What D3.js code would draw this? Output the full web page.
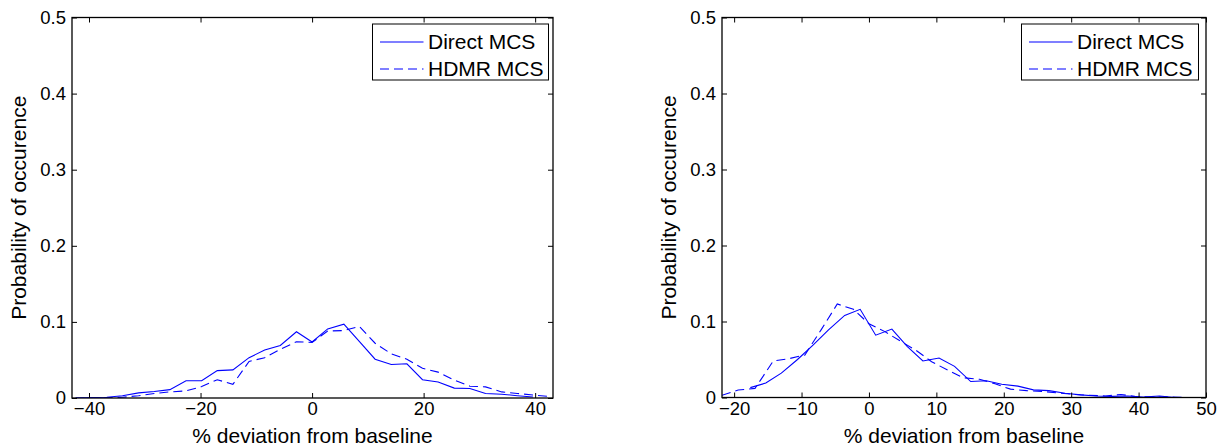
<!DOCTYPE html>
<html>
<head>
<meta charset="utf-8">
<script src="https://cdn.jsdelivr.net/npm/d3@7"></script>
<style>
    body { margin: 0; background: #fff; }
    svg { display: block; }
</style>
</head>
<body>
<div id="chart"></div>
<script>
// ---- left panel: bin centres (% deviation) and probabilities ----
const leftX = [-42.4, -39.6, -36.8, -34.0, -31.1, -28.3, -25.5, -22.6, -19.8, -17.0, -14.2, -11.3, -8.5, -5.7, -2.8,
    0, 2.8, 5.7, 8.5, 11.3, 14.2, 17.0, 19.8, 22.6, 25.5, 28.3, 31.1, 34.0, 36.8, 39.6, 42.4];
const leftDirect = [0, 0.0005, 0.001, 0.003, 0.0067, 0.0085, 0.011, 0.0226, 0.0226, 0.036, 0.037, 0.053, 0.063, 0.069, 0.087,
    0.0736, 0.0908, 0.097, 0.074, 0.051, 0.044, 0.045, 0.024, 0.021, 0.013, 0.0125, 0.006, 0.005, 0.003, 0.0013];
const leftHdmr = [0, 0, 0.0005, 0.001, 0.003, 0.006, 0.008, 0.0093, 0.015, 0.024, 0.018, 0.048, 0.053, 0.064, 0.074,
    0.073, 0.088, 0.0886, 0.094, 0.072, 0.058, 0.051, 0.039, 0.034, 0.0235, 0.0155, 0.0146, 0.008, 0.006, 0.004, 0.002];
const leftTicks = [-40, -20, 0, 20, 40];

// ---- right panel ----
const rightDirectX = [-17.6, -15.3, -13.0, -10.6, -8.3, -6.0, -3.6, -1.3, 1.0, 3.4, 5.7, 8.0, 10.4, 12.7, 15.1,
    17.4, 19.7, 22.1, 24.4, 26.7, 29.1, 31.4, 33.7, 36.1, 38.4, 40.7, 43.1, 45.4, 47.8, 50.0];
const rightDirect = [0.013, 0.019, 0.032, 0.050, 0.069, 0.089, 0.108, 0.116, 0.082, 0.090, 0.067, 0.048, 0.052, 0.041, 0.021,
    0.022, 0.0175, 0.015, 0.010, 0.009, 0.0055, 0.0035, 0.002, 0.0015, 0.002, 0.0005, 0.002, 0, 0, 0];
const rightHdmrX = [-21.8, -19.4, -16.9, -14.2, -11.9, -9.5, -7.1, -4.7, -2.3, 0.0, 2.3, 4.7, 7.0, 9.3, 11.7,
    14.0, 16.4, 18.7, 21.0, 23.4, 25.7, 28.1, 30.4, 32.7, 35.1, 37.4, 39.8, 42.1, 44.4, 46.8, 49.1];
const rightHdmr = [0.003, 0.0098, 0.012, 0.048, 0.051, 0.056, 0.089, 0.123, 0.116, 0.097, 0.087, 0.074, 0.062, 0.047, 0.036,
    0.026, 0.024, 0.018, 0.011, 0.009, 0.008, 0.006, 0.004, 0.003, 0.002, 0.004, 0.001, 0.0005, 0.001, 0, 0];
const rightTicks = [-20, -10, 0, 10, 20, 30, 40, 50];

const yTicks = [0, 0.1, 0.2, 0.3, 0.4, 0.5];
const seriesNames = ["Direct MCS", "HDMR MCS"];

const font = "'Liberation Sans', Arial, Helvetica, sans-serif";
const blue = "#0000ff";

const svg = d3.select("#chart").append("svg")
    .attr("width", 1218)
    .attr("height", 447);

drawPanel({
    left: 72, right: 553, top: 17.5, bottom: 398,
    xDomain: [-43.05, 43.2], xTicks: leftTicks,
    direct: leftX.slice(0, leftDirect.length).map((x, i) => [x, leftDirect[i]]),
    hdmr: leftX.map((x, i) => [x, leftHdmr[i]]),
    legend: { x: 372.5, y: 24, w: 176, h: 56 },
    yLabelX: 19
});

drawPanel({
    left: 722, right: 1206, top: 17.5, bottom: 397.5,
    xDomain: [-21.8, 50], xTicks: rightTicks,
    direct: rightDirectX.map((x, i) => [x, rightDirect[i]]),
    hdmr: rightHdmrX.map((x, i) => [x, rightHdmr[i]]),
    legend: { x: 1021.5, y: 24, w: 177, h: 56 },
    yLabelX: 669
});

function drawPanel(cfg) {
    const g = svg.append("g");
    const w = cfg.right - cfg.left;
    const h = cfg.bottom - cfg.top;

    const x = d3.scaleLinear().domain(cfg.xDomain).range([cfg.left, cfg.right]);
    const y = d3.scaleLinear().domain([0, 0.5]).range([cfg.bottom, cfg.top]);

    const clipId = "clip" + cfg.left;
    g.append("clipPath").attr("id", clipId)
        .append("rect")
        .attr("x", cfg.left).attr("y", cfg.top)
        .attr("width", w).attr("height", h);

    // data lines
    const line = d3.line().x(d => x(d[0])).y(d => y(d[1]));
    g.append("path")
        .datum(cfg.direct)
        .attr("clip-path", `url(#${clipId})`)
        .attr("fill", "none")
        .attr("stroke", blue)
        .attr("stroke-width", 1.1)
        .attr("d", line);
    g.append("path")
        .datum(cfg.hdmr)
        .attr("clip-path", `url(#${clipId})`)
        .attr("fill", "none")
        .attr("stroke", blue)
        .attr("stroke-width", 1.1)
        .attr("stroke-dasharray", "9,5")
        .attr("d", line);

    // bottom axis, ticks pointing inward
    g.append("g")
        .attr("transform", `translate(0, ${cfg.bottom})`)
        .call(d3.axisBottom(x).tickValues(cfg.xTicks)
            .tickSizeInner(-5).tickSizeOuter(0).tickPadding(4));
    // left axis
    g.append("g")
        .attr("transform", `translate(${cfg.left}, 0)`)
        .call(d3.axisLeft(y).tickValues(yTicks)
            .tickFormat(d => d === 0 ? "0" : d3.format(".1f")(d))
            .tickSizeInner(-5).tickSizeOuter(0).tickPadding(6));
    // top and right ticks (box)
    g.append("g")
        .attr("transform", `translate(0, ${cfg.top})`)
        .call(d3.axisTop(x).tickValues(cfg.xTicks).tickFormat("")
            .tickSizeInner(-5).tickSizeOuter(0));
    g.append("g")
        .attr("transform", `translate(${cfg.right}, 0)`)
        .call(d3.axisRight(y).tickValues(yTicks).tickFormat("")
            .tickSizeInner(-5).tickSizeOuter(0));

    g.selectAll(".domain").remove();
    g.selectAll(".tick line").attr("stroke", "#000").attr("stroke-width", 1);
    g.selectAll(".tick text")
        .style("font-family", font)
        .style("font-size", "18.5px")
        .attr("fill", "#000");

    // frame
    g.append("rect")
        .attr("x", cfg.left).attr("y", cfg.top)
        .attr("width", w).attr("height", h)
        .attr("fill", "none")
        .attr("stroke", "#000")
        .attr("stroke-width", 1.3);

    // axis titles
    g.append("text")
        .attr("x", (cfg.left + cfg.right) / 2)
        .attr("y", 443)
        .attr("text-anchor", "middle")
        .style("font-family", font)
        .style("font-size", "21px")
        .text("% deviation from baseline");
    g.append("text")
        .attr("transform", `translate(${cfg.yLabelX}, ${(cfg.top + cfg.bottom) / 2}) rotate(-90)`)
        .attr("text-anchor", "middle")
        .attr("dy", "0.35em")
        .style("font-family", font)
        .style("font-size", "21px")
        .text("Probability of occurence");

    // legend
    const lg = cfg.legend;
    const leg = g.append("g").attr("transform", `translate(${lg.x}, ${lg.y})`);
    leg.append("rect")
        .attr("width", lg.w).attr("height", lg.h)
        .attr("fill", "#fff")
        .attr("stroke", "#000")
        .attr("stroke-width", 1);
    seriesNames.forEach((name, i) => {
        const ly = 18 + i * 27;
        leg.append("line")
            .attr("x1", 7.5).attr("x2", 51)
            .attr("y1", ly).attr("y2", ly)
            .attr("stroke", blue)
            .attr("stroke-width", 1.1)
            .attr("stroke-dasharray", i === 1 ? "9,5" : null);
        leg.append("text")
            .attr("x", 55.5).attr("y", ly)
            .attr("dy", "0.35em")
            .style("font-family", font)
            .style("font-size", "21px")
            .text(name);
    });
}
</script>
</body>
</html>
